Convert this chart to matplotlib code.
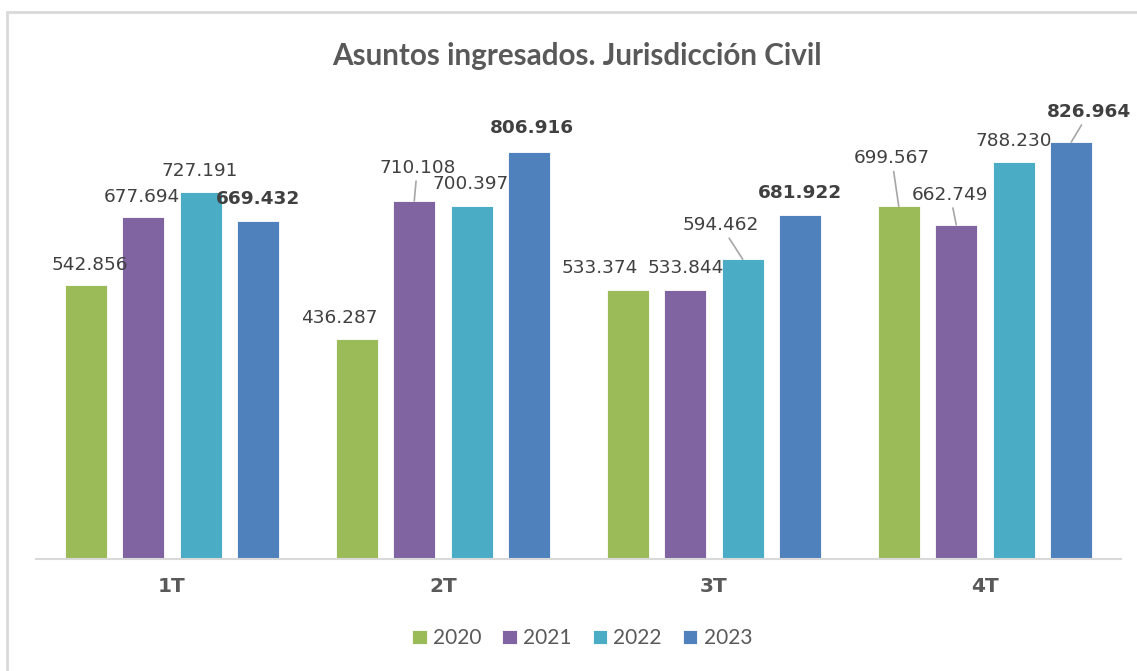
import numpy as np
import matplotlib.pyplot as plt
from matplotlib.patches import Rectangle

# data
trimestres = ['1T', '2T', '3T', '4T']
anios = ['2020', '2021', '2022', '2023']
v2020 = [542856, 436287, 533374, 699567]
v2021 = [677694, 710108, 533844, 662749]
v2022 = [727191, 700397, 594462, 788230]
v2023 = [669432, 806916, 681922, 826964]
series = [v2020, v2021, v2022, v2023]

colores = ['#9BBB59', '#8064A2', '#4BACC6', '#4F81BD']

# label offsets in pixels (dx, dy) from bar top, and whether a leader line is drawn
offsets = [
    [(4, 20), (-17, 21), (-28, 22), (-7, 48)],
    [(-1, 20), (3, 33), (0, 22), (-6, 30)],
    [(-1, 21), (-1, 22), (-22, 34), (0, 21)],
    [(0, 22), (3, 24), (0, 22), (18, 30)],
]
leaders = [
    [False, False, False, True],
    [False, True, False, True],
    [False, False, True, False],
    [False, False, False, True],
]


def fmt(v):
    return f'{v:,}'.replace(',', '.')


fig = plt.figure(figsize=(11.37, 6.71), dpi=100)
ax = fig.add_axes([0.0321, 0.1669, 0.9534, 0.6763])

x = np.arange(len(trimestres))
step = 0.2122
ancho = 0.155

for i, vals in enumerate(series):
    pos = x + (i - 1.5) * step
    ax.bar(pos, vals, width=ancho, color=colores[i], label=anios[i],
           edgecolor='white', linewidth=0.6, zorder=2)
    for j, v in enumerate(vals):
        dx, dy = offsets[i][j]
        peso = 'bold' if i == 3 else 'normal'
        col = '#404040'
        if leaders[i][j]:
            ax.annotate(fmt(v), xy=(pos[j], v), xytext=(dx, dy),
                        textcoords='offset pixels', ha='center', va='center',
                        fontsize=13.3, fontweight=peso, color=col,
                        arrowprops=dict(arrowstyle='-', color='#a6a6a6', lw=1.2,
                                        shrinkA=1, shrinkB=0))
        else:
            ax.annotate(fmt(v), xy=(pos[j], v), xytext=(dx, dy),
                        textcoords='offset pixels', ha='center', va='center',
                        fontsize=13.3, fontweight=peso, color=col)

ax.set_xlim(-0.5, 3.5)
ax.set_ylim(0, 900000)
ax.set_xticks(x)
ax.set_xticklabels(trimestres, fontsize=14.5, fontweight='bold', color='#595959')
ax.tick_params(axis='x', length=0, pad=13)
ax.set_yticks([])
for s in ['top', 'right', 'left']:
    ax.spines[s].set_visible(False)
ax.spines['bottom'].set_color('#d9d9d9')
ax.spines['bottom'].set_linewidth(1.5)

fig.text(0.5075, 0.916, 'Asuntos ingresados. Jurisdicción Civil', ha='center', va='center',
         fontsize=21.3, fontweight='bold', color='#595959', family='Lato')

leg = fig.legend(loc='center', bbox_to_anchor=(0.512, 0.049), ncol=4, frameon=False,
                 handlelength=0.7, handleheight=0.7, handletextpad=0.3, columnspacing=1.0,
                 prop={'family': 'Lato', 'size': 15})
for t in leg.get_texts():
    t.set_color('#595959')

fig.add_artist(Rectangle((7 / 1137, -0.1), 1.2, 0.1 + 1 - 12 / 671, transform=fig.transFigure,
                         fill=False, edgecolor='#d9d9d9', linewidth=2))

fig.savefig('out.png', dpi=100)
